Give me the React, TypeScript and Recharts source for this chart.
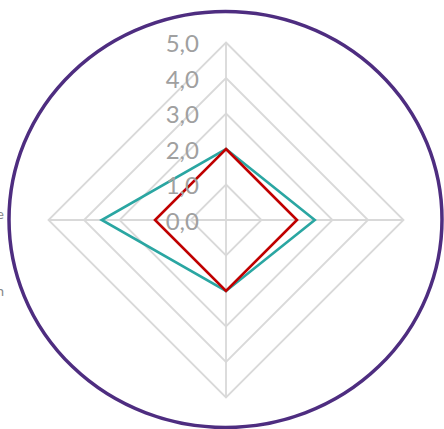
import React from "react";
import { RadarChart, Radar, PolarGrid, PolarAngleAxis, PolarRadiusAxis } from "recharts";

const categories = ["Axe A", "Axe B", "Axe C", "Cible"];
const tealValues = [2.0, 2.5, 2.0, 3.5];
const redValues = [2.0, 2.0, 2.0, 2.0];
const radiusTicks = [0, 1, 2, 3, 4, 5];

const data = categories.map((c, i) => ({ cat: c, teal: tealValues[i], red: redValues[i] }));

const fmt = (v: number) => v.toFixed(1).replace(".", ",");

const RadiusTick = (props: any) => {
  const { x, y, payload } = props;
  return (
    <text x={x - 27} y={y} textAnchor="end" dominantBaseline="central" fill="#a0a0a0" fontSize={24} fontFamily="Lato, 'Open Sans', sans-serif">
      {fmt(Number(payload.value))}
    </text>
  );
};

const AngleTick = (props: any) => {
  const { index, y } = props;
  if (index !== 3) return null;
  return (
    <g>
      <text x={4} y={y - 7} textAnchor="end" dominantBaseline="central" fill="#888" fontSize={14} fontFamily="Lato, sans-serif">
        e
      </text>
      <text x={4} y={y + 70} textAnchor="end" dominantBaseline="central" fill="#888" fontSize={14} fontFamily="Lato, sans-serif">
        n
      </text>
    </g>
  );
};

export default function App() {
  return (
    <div style={{ position: "absolute", left: 0, top: 0, width: 444, height: 429, background: "#fff", overflow: "hidden" }}>
      <RadarChart width={444} height={429} data={data} cx={226} cy={220} outerRadius={177.5} startAngle={90} endAngle={-270} margin={{ top: 0, right: 0, bottom: 0, left: 0 }}>
        <PolarGrid gridType="polygon" stroke="#d9d9d9" strokeWidth={1.8} />
        <PolarAngleAxis dataKey="cat" tick={<AngleTick />} tickLine={false} axisLine={false} />
        <PolarRadiusAxis angle={90} domain={[0, 5]} ticks={radiusTicks as any} tickCount={6} tick={<RadiusTick />} axisLine={false} tickLine={false} />
        <Radar dataKey="teal" stroke="#2aa6a2" strokeWidth={2.6} fill="none" fillOpacity={0} isAnimationActive={false} />
        <Radar dataKey="red" stroke="#c00000" strokeWidth={2.6} fill="none" fillOpacity={0} isAnimationActive={false} />
      </RadarChart>
      <svg width={444} height={429} style={{ position: "absolute", left: 0, top: 0, pointerEvents: "none" }}>
        <ellipse cx={225.5} cy={219.5} rx={216.5} ry={208} fill="none" stroke="#4e2d80" strokeWidth={3.5} />
      </svg>
    </div>
  );
}
